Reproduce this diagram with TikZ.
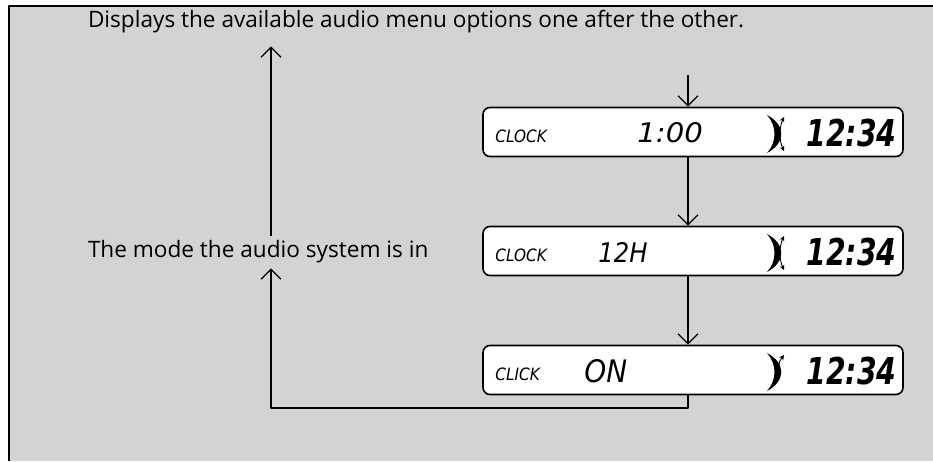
\documentclass[tikz,border=0pt]{standalone}
\usepackage{fontspec}
\setmainfont{Open Sans}
\newfontfamily\lcdfont{DejaVu Sans Condensed}
\usetikzlibrary{positioning,arrows.meta}
\definecolor{panel}{RGB}{209,211,212}
\tikzset{
  lcd/.style={draw, line width=1.6pt, rounded corners=7pt, fill=white, minimum width=420pt, minimum height=49pt, inner sep=0pt},
  lcdsmall/.style={font=\lcdfont\itshape\fontsize{17}{17}\selectfont, anchor=west, inner sep=0pt},
  lcdvalue/.style={anchor=west, inner sep=0pt},
  lcdbig/.style={font=\lcdfont\bfseries\itshape\fontsize{37}{37}\selectfont, anchor=east, inner sep=0pt},
  label/.style={font=\fontsize{22.6}{26}\selectfont, anchor=west, inner sep=0pt, outer sep=5pt},
  link/.style={line width=1.3pt, ->},
  moon/.pic={
    \fill (-8,-19) .. controls (11,-9) and (11,9) .. (-8,19) .. controls (2,8) and (2,-8) .. (-8,-19);
    \draw[line width=.9pt, {Stealth[length=5pt,width=5pt]}-{Stealth[length=5pt,width=5pt]}] (9,-17) .. controls (4,-6) and (4,6) .. (9,17);
  },
  moonup/.pic={
    \fill (-8,-19) .. controls (11,-9) and (11,9) .. (-8,19) .. controls (2,8) and (2,-8) .. (-8,-19);
    \draw[line width=.9pt, -{Stealth[length=5pt,width=5pt]}] (4,-4) .. controls (4,-10) .. (9,-17);
  }
}
\begin{document}
\begin{tikzpicture}[x=1pt, y=-1pt, line join=round, >={Straight Barb[length=10pt,width=20pt]}]
  \def\xup{271} \def\xdn{688} \def\ybot{408}
  \useasboundingbox (0,0) rectangle (933,461);
  % panel
  \fill[panel] (9,6) rectangle (933,461);
  \draw[line width=2pt] (9,461) -- (9,6) -- (933,6);
  % labels
  \node[label] (disp) at (83,22) {Displays the available audio menu options one after the other.};
  \node[label] (mode) at (83,252) {The mode the audio system is in};
  % displays
  \node[lcd] (lcd1) at (693,132) {};
  \node[lcd] (lcd2) at (693,251) {};
  \node[lcd] (lcd3) at (693,370) {};
  \node[lcdsmall] (t1) at ([xshift=13pt,yshift=-4pt]lcd1.west) {CLOCK};
  \node[lcdvalue, font=\lcdfont\itshape\fontsize{27}{27}\selectfont] (v1) at ([xshift=155pt,yshift=-1pt]lcd1.west) {\scalebox{1.2}[1]{1:00}};
  \node[lcdbig] (c1) at ([xshift=-7pt,yshift=-1pt]lcd1.east) {\scalebox{.85}[1]{12:34}};
  \pic at (775,134) {moon};
  \node[lcdsmall] (t2) at ([xshift=13pt,yshift=-4pt]lcd2.west) {CLOCK};
  \node[lcdvalue, font=\lcdfont\itshape\fontsize{27}{27}\selectfont] (v2) at ([xshift=116pt,yshift=-1pt]lcd2.west) {12H};
  \node[lcdbig] (c2) at ([xshift=-7pt,yshift=-1pt]lcd2.east) {\scalebox{.85}[1]{12:34}};
  \pic at (775,253) {moon};
  \node[lcdsmall] (t3) at ([xshift=13pt,yshift=-4pt]lcd3.west) {CLICK};
  \node[lcdvalue, font=\lcdfont\itshape\fontsize{31}{31}\selectfont] (v3) at ([xshift=102pt,yshift=-1pt]lcd3.west) {ON};
  \node[lcdbig] (c3) at ([xshift=-7pt,yshift=-1pt]lcd3.east) {\scalebox{.85}[1]{12:34}};
  \pic at (775,372) {moonup};
  % connectors
  \coordinate (feed) at (\xdn,75);
  \coordinate (ret) at (\xup,\ybot);
  \draw[link] (feed) -- ([xshift=-5pt]lcd1.north);
  \draw[link] ([xshift=-5pt]lcd1.south) -- ([xshift=-5pt]lcd2.north);
  \draw[link] ([xshift=-5pt]lcd2.south) -- ([xshift=-5pt]lcd3.north);
  \draw[link] ([xshift=-5pt]lcd3.south) |- (ret) -- (mode.south -| ret);
  \draw[link, shorten >=8pt] (mode.north -| ret) -- (disp.south -| ret);
\end{tikzpicture}
\end{document}
